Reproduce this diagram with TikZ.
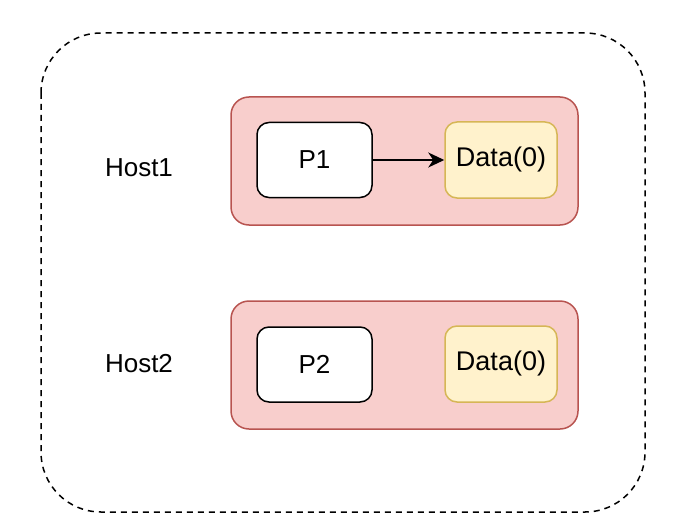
\documentclass[tikz,border=0pt]{standalone}
\usepackage{fontspec}
\setmainfont{Liberation Sans}
\usetikzlibrary{arrows.meta}
\definecolor{hostfill}{HTML}{F8CECC}
\definecolor{hostline}{HTML}{B85450}
\definecolor{datafill}{HTML}{FFF2CC}
\definecolor{dataline}{HTML}{D6B656}
\begin{document}
\begin{tikzpicture}[x=1pt,y=-1pt,
  hostbox/.style={draw=hostline,fill=hostfill,line width=1.5pt,rounded corners=18pt},
  procbox/.style={draw=black,fill=white,line width=1.5pt,rounded corners=12pt,minimum width=115pt,minimum height=75pt,inner sep=0pt,font=\fontsize{26}{30}\selectfont},
  databox/.style={draw=dataline,fill=datafill,line width=1.5pt,rounded corners=12pt,minimum width=112pt,minimum height=76pt,inner sep=0pt,font=\fontsize{27}{30}\selectfont},
  hostlabel/.style={font=\fontsize{26}{30}\selectfont,inner sep=0pt},
  conn/.style={line width=1.5pt,-{Stealth[length=16pt,width=15pt,inset=5pt]}}]
\useasboundingbox (0,0) rectangle (690,532);
\draw[line width=1.5pt,dash pattern=on 6pt off 5pt,rounded corners=60pt] (41,33) rectangle (645,512);
\draw[hostbox] (231,97) rectangle (578,225);
\draw[hostbox] (231,301) rectangle (578,429);
\node[procbox] (p1) at (314.5,160) {P1};
\node[databox] (d1) at (501,160) {Data(0)};
\node[procbox] (p2) at (314.5,364.5) {P2};
\node[databox] (d2) at (501,364) {Data(0)};
\node[hostlabel] (h1) at (139,168) {Host1};
\node[hostlabel] (h2) at (139,364) {Host2};
\draw[conn] (p1) -- (d1);
\end{tikzpicture}
\end{document}
